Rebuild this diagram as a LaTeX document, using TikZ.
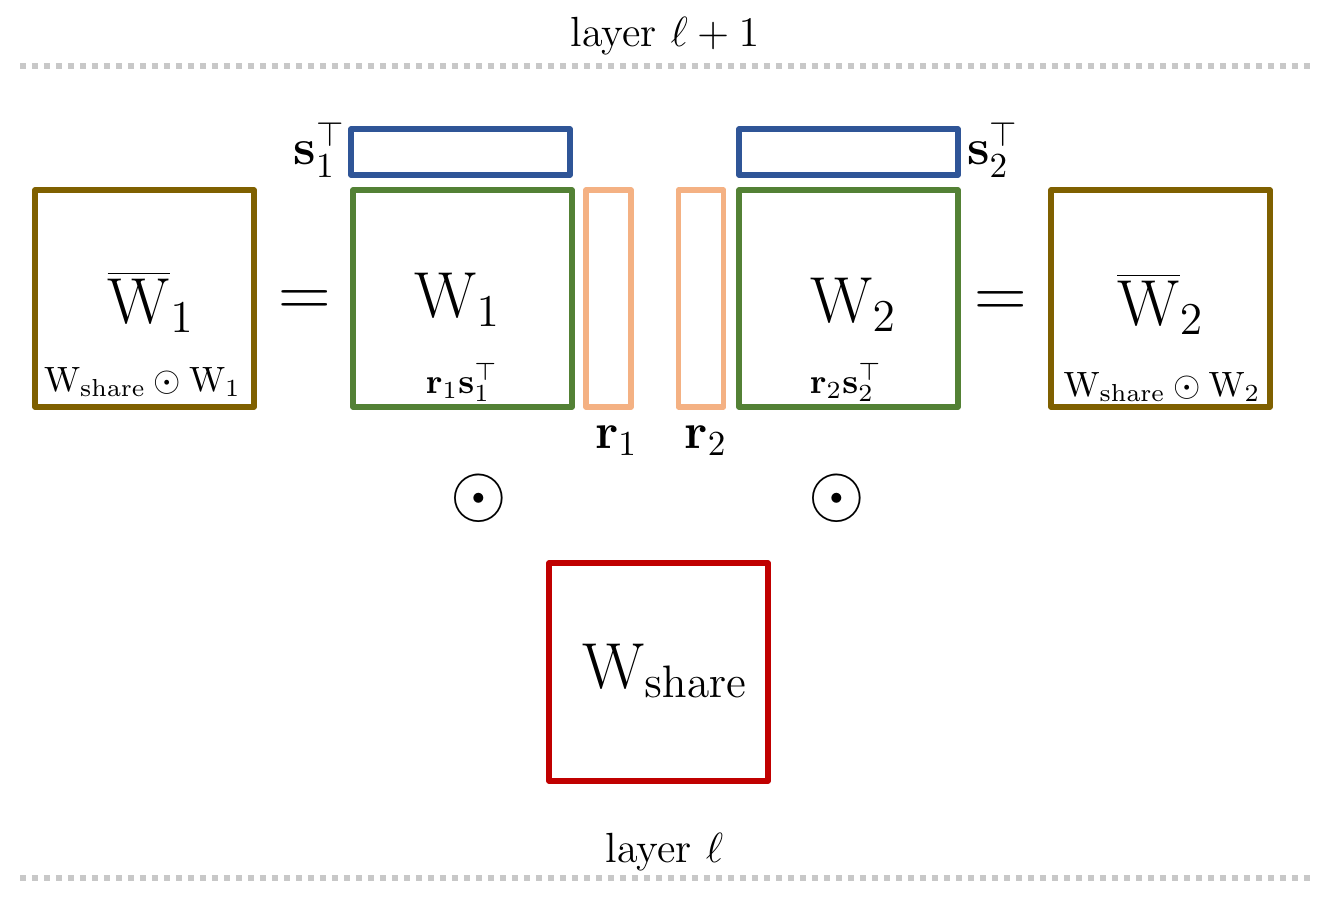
\RequirePackage{fix-cm}
\documentclass[tikz,border=0pt]{standalone}
\definecolor{wbarcol}{HTML}{7F6000}
\definecolor{wcol}{HTML}{538135}
\definecolor{scol}{HTML}{2F5597}
\definecolor{rcol}{HTML}{F4B183}
\definecolor{sharecol}{HTML}{C00000}
\definecolor{layercol}{HTML}{C8C8C8}
\newcommand{\Wm}{\mathrm{W}}
\begin{document}
\begin{tikzpicture}[line join=round,
  mat/.style={draw, line width=1.6pt, minimum width=2.19cm, minimum height=2.17cm, inner sep=0pt},
  vec/.style={draw, line width=1.6pt, inner sep=0pt},
  layerline/.style={layercol, line width=0.06cm, dash pattern=on 0.06cm off 0.06cm},
  layer/.style={font=\fontsize{12}{14}\selectfont, anchor=base},
  big/.style={font=\fontsize{18.5}{22}\selectfont, anchor=base},
  small/.style={font=\fontsize{10}{12}\selectfont, anchor=base},
  vlbl/.style={font=\fontsize{14.4}{17}\selectfont, anchor=base},
  op/.style={font=\fontsize{20.74}{25}\selectfont, anchor=base, inner sep=0pt}]
\useasboundingbox (0,0) rectangle (13.29,9.03);
\def\vw{2.19}  % width of the vectors s
\def\vh{0.46}  % height of the vectors s
\def\rw{0.45}  % width of the vectors r
\def\rh{2.17}  % height of the vectors r

% --- layer borders ---
\draw[layerline] (0.20,8.37) -- (13.10,8.37);
\draw[layerline] (0.20,0.25) -- (13.10,0.25);
\node[layer] (layerTop) at (6.65,8.56) {layer $\ell+1$};
\node[layer] (layerBot) at (6.645,0.41) {layer $\ell$};

% --- task 1 ---
\node[mat, draw=wbarcol] (wbarA) at (1.445,6.045) {};
\node[mat, draw=wcol] (wA) at (4.625,6.045) {};
\node[vec, draw=scol, minimum width=\vw cm, minimum height=\vh cm] (sA) at (4.605,7.51) {};
\node[vec, draw=rcol, minimum width=\rw cm, minimum height=\rh cm] (rA) at (6.085,6.045) {};
\node[big] (wbarAtxt) at (1.51,5.80) {$\overline{\Wm}_1$};
\node[small] (wbarAsub) at (1.425,5.12) {$\Wm_{\mathrm{share}}\odot\Wm_1$};
\node[op] (eqA) at (3.05,5.866) {$=$};
\node[big] (wAtxt) at (4.575,5.86) {$\Wm_1$};
\node[small] (wAsub) at (4.62,5.10) {$\mathbf{r}_1\mathbf{s}_1^\top$};
\node[vlbl] (sAlbl) at (3.195,7.38) {$\mathbf{s}_1^\top$};
\node[vlbl] (rAlbl) at (6.165,4.55) {$\mathbf{r}_1$};
\node[op] (odotA) at (4.79,3.865) {$\odot$};

% --- task 2 ---
\node[vec, draw=rcol, minimum width=\rw cm, minimum height=\rh cm] (rB) at (7.01,6.045) {};
\node[mat, draw=wcol] (wB) at (8.485,6.045) {};
\node[vec, draw=scol, minimum width=\vw cm, minimum height=\vh cm] (sB) at (8.485,7.51) {};
\node[mat, draw=wbarcol] (wbarB) at (11.605,6.045) {};
\node[vlbl] (rBlbl) at (7.06,4.55) {$\mathbf{r}_2$};
\node[big] (wBtxt) at (8.535,5.81) {$\Wm_2$};
\node[small] (wBsub) at (8.46,5.10) {$\mathbf{r}_2\mathbf{s}_2^\top$};
\node[vlbl] (sBlbl) at (9.93,7.38) {$\mathbf{s}_2^\top$};
\node[op] (eqB) at (10.01,5.856) {$=$};
\node[big] (wbarBtxt) at (11.605,5.78) {$\overline{\Wm}_2$};
\node[small] (wbarBsub) at (11.62,5.07) {$\Wm_{\mathrm{share}}\odot\Wm_2$};
\node[op] (odotB) at (8.37,3.865) {$\odot$};

% --- shared weights ---
\node[mat, draw=sharecol, minimum height=2.18cm] (share) at (6.585,2.31) {};
\node[big] (shareTxt) at (6.65,2.15) {$\Wm_{\mathrm{share}}$};
\end{tikzpicture}
\end{document}
